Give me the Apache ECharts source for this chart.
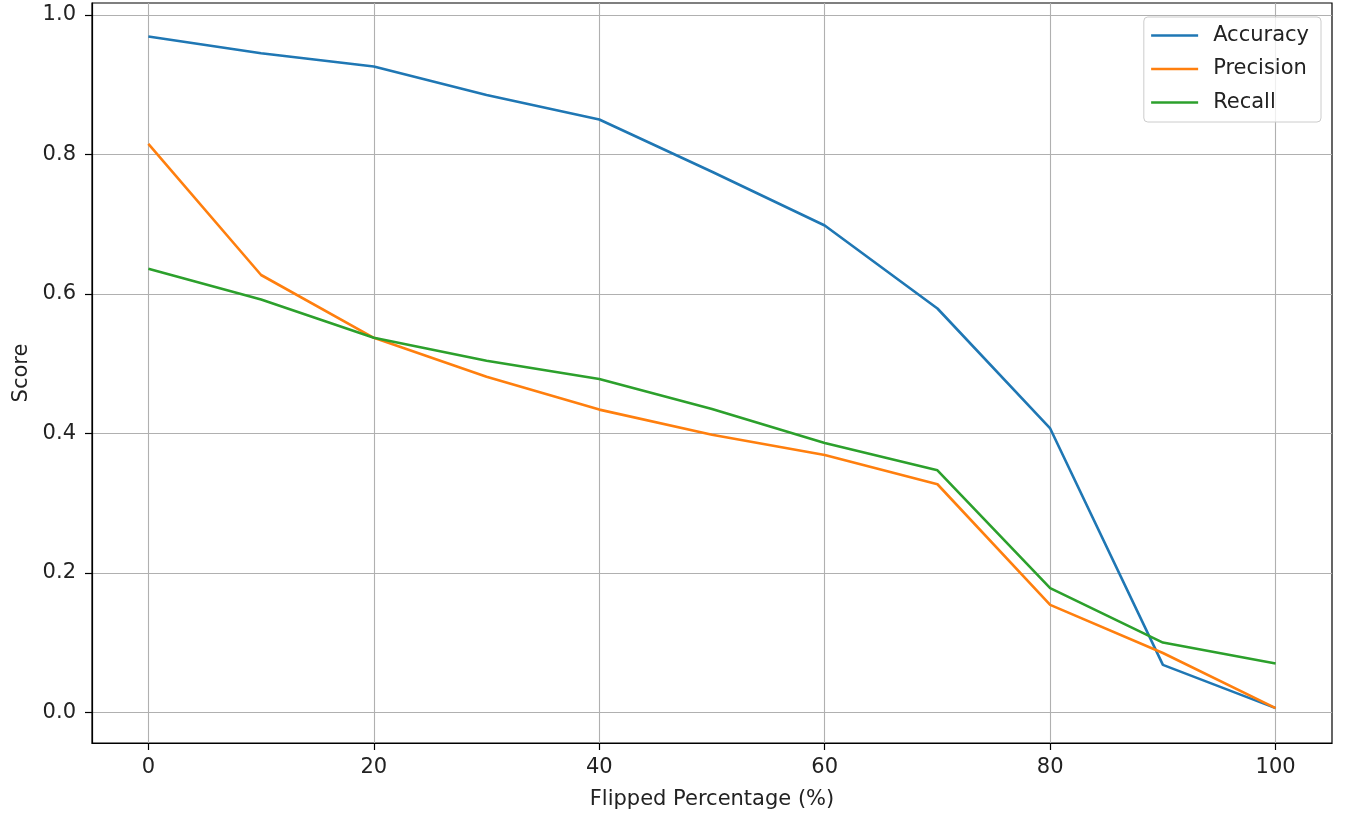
<!DOCTYPE html>
<html>
<head>
<meta charset="utf-8">
<script src="https://cdn.jsdelivr.net/npm/echarts@6/dist/echarts.min.js"></script>
<style>
html,body{margin:0;padding:0;background:#fff;}
#chart{width:1356px;height:820px;}
</style>
</head>
<body>
<div id="chart"></div>
<script>
const flipped = [0, 10, 20, 30, 40, 50, 60, 70, 80, 90, 100];
const accuracy = [0.969, 0.945, 0.926, 0.885, 0.850, 0.775, 0.698, 0.579, 0.407, 0.068, 0.006];
const precision = [0.815, 0.627, 0.537, 0.481, 0.434, 0.398, 0.369, 0.327, 0.154, 0.085, 0.006];
const recall = [0.636, 0.592, 0.537, 0.504, 0.478, 0.435, 0.386, 0.347, 0.178, 0.100, 0.070];
const xTicks = [0, 20, 40, 60, 80, 100];
const yTicks = [0.0, 0.2, 0.4, 0.6, 0.8, 1.0];
const seriesNames = ['Accuracy', 'Precision', 'Recall'];
const colors = ['#1f77b4', '#ff7f0e', '#2ca02c'];

const FONT = 'DejaVu Sans';
const FS = 21;
const TXT = '#222222';

function pairs(ys) { return flipped.map((x, i) => [x, ys[i]]); }

const chart = echarts.init(document.getElementById('chart'), null, {renderer: 'canvas'});
chart.setOption({
  animation: false,
  backgroundColor: '#ffffff',
  color: colors,
  textStyle: {fontFamily: FONT},
  grid: {
    left: 92, right: 24, top: 3, bottom: 77,
    show: true, borderColor: '#000', borderWidth: 1.2,
    outerBoundsMode: 'none', containLabel: false
  },
  legend: {
    right: 35, top: 17,
    orient: 'vertical',
    align: 'left',
    itemWidth: 47, itemHeight: 20, itemGap: 12.5,
    padding: [8, 12, 9, 6],
    backgroundColor: 'rgba(255,255,255,0.8)',
    borderColor: '#cccccc', borderWidth: 1, borderRadius: 4,
    itemStyle: {opacity: 0},
    lineStyle: {width: 2.6},
    textStyle: {fontFamily: FONT, fontSize: FS, color: TXT, padding: [0, 0, 0, 10]},
    data: seriesNames
  },
  xAxis: {
    type: 'value', min: -5, max: 105,
    name: 'Flipped Percentage (%)', nameLocation: 'middle', nameGap: 46,
    nameTextStyle: {fontFamily: FONT, fontSize: FS, color: TXT},
    axisLine: {onZero: false, show: true, lineStyle: {color: '#000', width: 1.2}},
    axisTick: {show: true, inside: false, length: 7, customValues: xTicks, lineStyle: {color: '#000', width: 1.2}},
    axisLabel: {customValues: xTicks, margin: 14, fontFamily: FONT, fontSize: FS, color: TXT},
    splitLine: {show: true, lineStyle: {color: '#b0b0b0', width: 1.1}}
  },
  yAxis: {
    type: 'value', min: -0.044, max: 1.017,
    name: 'Score', nameLocation: 'middle', nameGap: 60, nameRotate: 90,
    nameTextStyle: {fontFamily: FONT, fontSize: FS, color: TXT},
    axisLine: {onZero: false, show: true, lineStyle: {color: '#000', width: 1.2}},
    axisTick: {show: true, inside: false, length: 7, customValues: yTicks, lineStyle: {color: '#000', width: 1.2}},
    axisLabel: {customValues: yTicks, margin: 16, fontFamily: FONT, fontSize: FS, color: TXT,
      formatter: v => Number(v).toFixed(1)},
    splitLine: {show: true, lineStyle: {color: '#b0b0b0', width: 1.1}}
  },
  series: [
    {name: seriesNames[0], type: 'line', data: pairs(accuracy), symbol: 'none', lineStyle: {width: 2.6, color: colors[0]}, itemStyle: {color: colors[0]}},
    {name: seriesNames[1], type: 'line', data: pairs(precision), symbol: 'none', lineStyle: {width: 2.6, color: colors[1]}, itemStyle: {color: colors[1]}},
    {name: seriesNames[2], type: 'line', data: pairs(recall), symbol: 'none', lineStyle: {width: 2.6, color: colors[2]}, itemStyle: {color: colors[2]}}
  ]
});
</script>
</body>
</html>
